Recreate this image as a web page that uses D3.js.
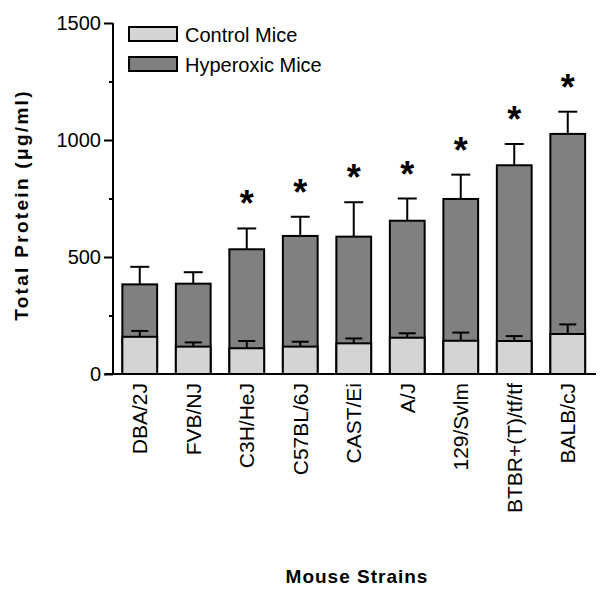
<!DOCTYPE html>
<html><head><meta charset="utf-8">
<script src="https://cdn.jsdelivr.net/npm/d3@7"></script>
<style>body{margin:0;background:#fff}svg{display:block}text{font-family:"Liberation Sans",Arial,sans-serif;fill:#000}</style>
</head><body><svg id="c" width="612" height="599"></svg>
<script>
const categories = ["DBA/2J","FVB/NJ","C3H/HeJ","C57BL/6J","CAST/Ei","A/J","129/Svlm","BTBR+(T)/tf/tf","BALB/cJ"];
const control = [159, 117, 110, 117, 131, 155, 142, 141, 171];
const controlErr = [25, 18, 31, 21, 21, 19, 35, 21, 41];
const hyperoxic = [383, 386, 533, 590, 587, 655, 748, 892, 1026];
const hyperoxicErr = [75, 49, 89, 82, 147, 95, 104, 91, 95];
const significant = [false, false, true, true, true, true, true, true, true];
const yTicks = [0, 500, 1000, 1500];
const yMinorTicks = [250, 750, 1250];
const seriesNames = ["Control Mice", "Hyperoxic Mice"];

const colors = {control: "#d4d4d4", hyper: "#808080"};
const svg = d3.select("#c");
const y = d3.scaleLinear().domain([0, 1500]).range([374, 23]);
const x = d3.scaleBand().domain(categories).range([113, 594.5]).paddingInner(0.35).paddingOuter(0.175);

const data = categories.map((c, i) => ({c, ctl: control[i], ctlE: controlErr[i], hyp: hyperoxic[i], hypE: hyperoxicErr[i], sig: significant[i]}));

const g = svg.append("g");
const capW = 19;
data.forEach(d => {
  const cx = x(d.c) + x.bandwidth() / 2;
  g.append("line").attr("x1", cx).attr("x2", cx).attr("y1", y(d.hyp)).attr("y2", y(d.hyp + d.hypE)).attr("stroke", "#000").attr("stroke-width", 2);
  g.append("line").attr("x1", cx - capW / 2).attr("x2", cx + capW / 2).attr("y1", y(d.hyp + d.hypE)).attr("y2", y(d.hyp + d.hypE)).attr("stroke", "#000").attr("stroke-width", 2);
});
g.selectAll("rect.h").data(data).join("rect").attr("class", "h")
  .attr("x", d => x(d.c)).attr("width", x.bandwidth())
  .attr("y", d => y(d.hyp)).attr("height", d => y(0) - y(d.hyp))
  .attr("fill", colors.hyper).attr("stroke", "#000").attr("stroke-width", 2);
data.forEach(d => {
  const cx = x(d.c) + x.bandwidth() / 2;
  g.append("line").attr("x1", cx).attr("x2", cx).attr("y1", y(d.ctl)).attr("y2", y(d.ctl + d.ctlE)).attr("stroke", "#000").attr("stroke-width", 2);
  g.append("line").attr("x1", cx - 8.5).attr("x2", cx + 8.5).attr("y1", y(d.ctl + d.ctlE)).attr("y2", y(d.ctl + d.ctlE)).attr("stroke", "#000").attr("stroke-width", 2);
});
g.selectAll("rect.c").data(data).join("rect").attr("class", "c")
  .attr("x", d => x(d.c)).attr("width", x.bandwidth())
  .attr("y", d => y(d.ctl)).attr("height", d => y(0) - y(d.ctl))
  .attr("fill", colors.control).attr("stroke", "#000").attr("stroke-width", 2);
g.selectAll("text.s").data(data.filter(d => d.sig)).join("text").attr("class", "s")
  .attr("x", d => x(d.c) + x.bandwidth() / 2).attr("y", d => y(d.hyp + d.hypE) - 12)
  .attr("text-anchor", "middle").attr("font-size", 36).attr("font-weight", "bold").text("*");

const yAxis = svg.append("g").attr("transform", "translate(113,0)")
  .call(d3.axisLeft(y).tickValues(yTicks).tickSize(9).tickPadding(3).tickFormat(d3.format("d")));
yAxis.select(".domain").attr("d", `M0,${y(1500)}V${y(0)}`);
svg.append("g").attr("transform", "translate(113,0)")
  .call(d3.axisLeft(y).tickValues(yMinorTicks).tickSize(4).tickFormat(""))
  .select(".domain").remove();
svg.selectAll(".tick line, .domain").attr("stroke", "#000").attr("stroke-width", 2);
yAxis.selectAll("text").attr("font-size", 20).attr("font-family", "Liberation Sans, Arial, sans-serif");

const xAxis = svg.append("g").attr("transform", `translate(0,${y(0)})`)
  .call(d3.axisBottom(x).tickSize(0).tickPadding(0));
xAxis.select(".domain").attr("d", "M105,0H596").attr("stroke", "#000").attr("stroke-width", 2);
xAxis.selectAll("text").attr("font-size", 21).attr("font-family", "Liberation Sans, Arial, sans-serif")
  .attr("transform", "rotate(-90)").attr("text-anchor", "end").attr("dy", "0.35em").attr("x", -9).attr("y", 0);

svg.append("text").attr("transform", "translate(28,205) rotate(-90)").attr("text-anchor", "middle")
  .attr("font-size", 19).attr("font-weight", "bold").attr("letter-spacing", 2.3).text("Total Protein (μg/ml)");
svg.append("text").attr("x", 357).attr("y", 583).attr("text-anchor", "middle")
  .attr("font-size", 19).attr("font-weight", "bold").attr("letter-spacing", 1).text("Mouse Strains");

const lg = svg.append("g");
seriesNames.forEach((n, i) => {
  lg.append("rect").attr("x", 129).attr("y", 27 + i * 30).attr("width", 48).attr("height", 14)
    .attr("fill", i === 0 ? colors.control : colors.hyper).attr("stroke", "#000").attr("stroke-width", 2);
  lg.append("text").attr("x", 185).attr("y", 42 + i * 30).attr("font-size", 20).text(n);
});
</script></body></html>
